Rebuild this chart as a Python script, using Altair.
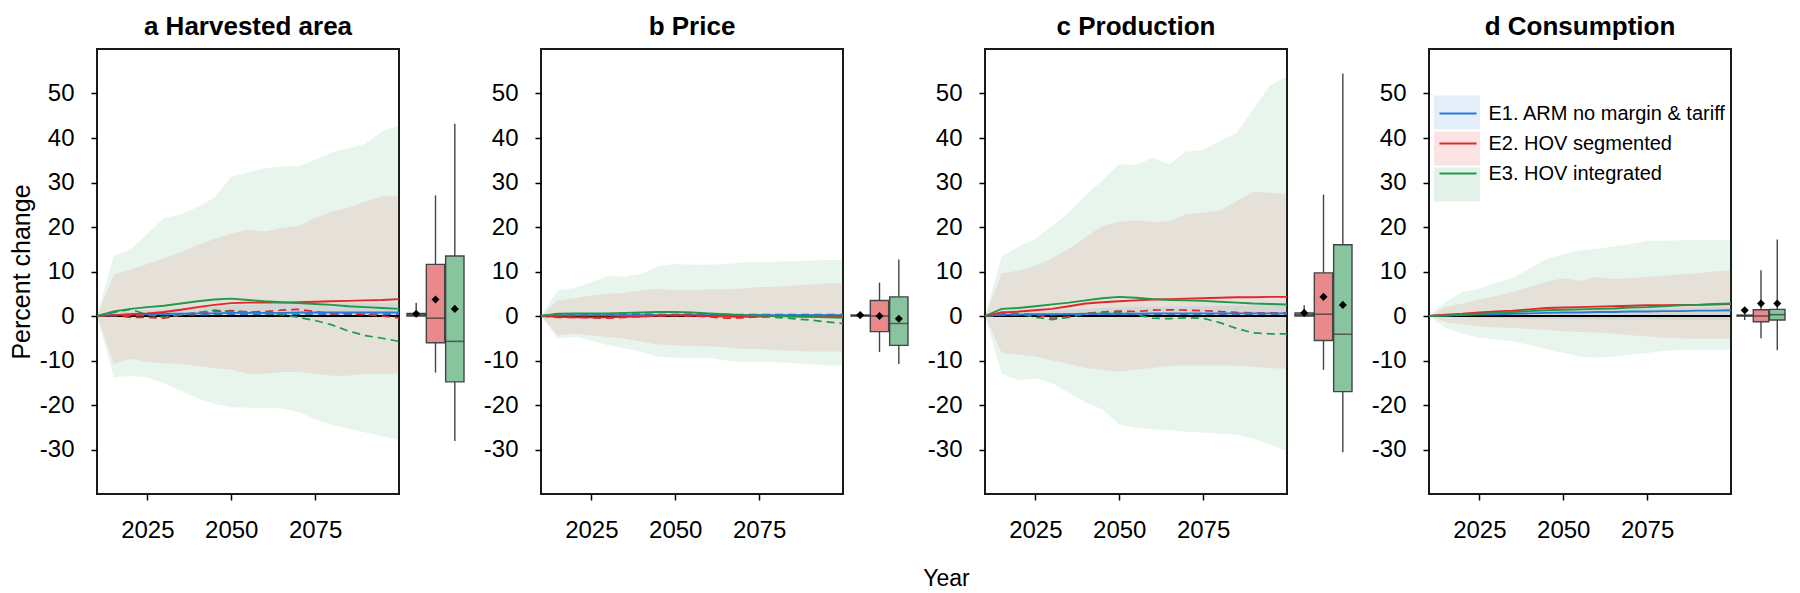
import altair as alt
import pandas as pd

YEARS = [2010, 2015, 2020, 2025, 2030, 2035, 2040, 2045, 2050, 2055,
         2060, 2065, 2070, 2075, 2080, 2085, 2090, 2095, 2100]
SCENARIOS = ["E1. ARM no margin & tariff", "E2. HOV segmented", "E3. HOV integrated"]
CODES = ["E1", "E2", "E3"]
LINE_COLORS = ["#2a7bd0", "#e3262b", "#1f9a4a"]
BOX_FILLS = ["#92a9be", "#e8898b", "#88c59e"]
PANEL_TITLES = ["a Harvested area", "b Price", "c Production", "d Consumption"]
X_TICKS = [2025, 2050, 2075]
Y_TICKS = [-30, -20, -10, 0, 10, 20, 30, 40, 50]

# ---------------- a Harvested area ----------------
A_E3_HI = [0, 13.5, 15.0, 18.5, 22.0, 22.8, 24.5, 26.6, 31.3, 32.2, 33.2, 33.6, 33.6, 35.1, 36.8, 37.7, 38.7, 41.5, 42.8]
A_E3_LO = [0, -13.8, -13.4, -13.8, -15.1, -16.8, -18.5, -19.8, -20.5, -20.6, -20.6, -20.8, -21.5, -23.2, -24.5, -25.3, -26.2, -27.0, -27.9]
A_E2_HI = [0, 9.2, 10.4, 11.7, 13.0, 14.3, 16.0, 17.3, 18.5, 19.4, 19.0, 19.8, 20.2, 22.0, 23.5, 24.3, 25.8, 26.9, 27.0]
A_E2_LO = [0, -10.8, -9.6, -10.4, -10.6, -10.8, -11.3, -11.7, -12.1, -13.0, -13.0, -12.6, -12.6, -13.0, -13.4, -13.4, -13.0, -13.0, -13.0]
A_E1_HI = [0, 0.8, 1.0, 1.3, 1.6, 1.8, 2.0, 2.2, 2.4, 2.5, 2.6, 2.7, 2.7, 2.8, 2.8, 2.9, 2.9, 3.0, 3.0]
A_E1_LO = [0, -0.1, -0.2, -0.2, -0.2, -0.2, -0.2, -0.2, -0.2, -0.2, -0.2, -0.2, -0.2, -0.2, -0.2, -0.2, -0.2, -0.2, -0.2]
A_E1_SOLID = [0, 0.2, 0.3, 0.4, 0.5, 0.5, 0.6, 0.6, 0.7, 0.7, 0.7, 0.7, 0.8, 0.8, 0.8, 0.8, 0.8, 0.8, 0.8]
A_E2_SOLID = [0, 0.2, 0.4, 0.6, 0.9, 1.4, 2.0, 2.5, 2.9, 3.0, 3.0, 3.0, 3.1, 3.2, 3.3, 3.4, 3.5, 3.6, 3.8]
A_E3_SOLID = [0, 1.0, 1.6, 2.0, 2.3, 2.8, 3.3, 3.7, 3.9, 3.6, 3.3, 3.1, 2.9, 2.7, 2.5, 2.2, 2.0, 1.8, 1.6]
A_E1_DASH = [0, 0.1, 0.2, 0.2, 0.3, 0.3, 0.3, 0.4, 0.4, 0.4, 0.4, 0.4, 0.4, 0.4, 0.4, 0.4, 0.4, 0.4, 0.4]
A_E2_DASH = [0, 0.2, -0.3, -0.3, -0.5, 0.2, 0.6, 1.0, 1.2, 0.9, 1.0, 1.3, 1.5, 1.0, 0.5, 0.6, 0.3, 0.0, -0.4]
A_E3_DASH = [0, 0.8, 1.5, 0.3, -0.3, 0.3, 0.8, 1.3, 1.0, 0.9, 0.6, 0.3, -0.3, -1.0, -2.0, -3.4, -4.4, -5.0, -5.7]
A_BOX_LOW = [0.0, -12.7, -28.1]
A_BOX_Q1 = [0.0, -6.0, -14.8]
A_BOX_MED = [0.3, -0.5, -5.7]
A_BOX_Q3 = [0.6, 11.6, 13.5]
A_BOX_HIGH = [3.0, 27.1, 43.2]
A_BOX_MEAN = [0.5, 3.7, 1.6]

# ---------------- b Price ----------------
B_E3_HI = [0, 5.8, 6.3, 7.6, 9.0, 8.8, 9.5, 11.2, 11.7, 11.5, 11.5, 11.7, 12.0, 12.2, 12.2, 12.3, 12.4, 12.6, 12.6]
B_E3_LO = [0, -5.1, -4.7, -5.5, -6.6, -7.3, -8.1, -9.2, -9.4, -9.4, -9.4, -10.0, -10.4, -10.4, -10.4, -10.6, -10.8, -11.1, -11.1]
B_E2_HI = [0, 3.5, 4.0, 4.6, 5.0, 5.2, 5.8, 6.1, 5.8, 5.8, 6.0, 6.0, 6.2, 6.5, 6.6, 6.8, 7.1, 7.3, 7.5]
B_E2_LO = [0, -4.4, -4.0, -4.4, -4.7, -5.1, -5.8, -6.4, -6.6, -6.8, -6.8, -7.0, -7.4, -7.4, -7.7, -7.8, -8.0, -8.0, -8.0]
B_E1_HI = [0, 0.2, 0.3, 0.3, 0.3, 0.4, 0.4, 0.4, 0.4, 0.4, 0.5, 0.5, 0.5, 0.5, 0.5, 0.5, 0.5, 0.5, 0.5]
B_E1_LO = [0, -0.1, -0.1, -0.1, -0.1, -0.1, -0.2, -0.2, -0.2, -0.2, -0.2, -0.2, -0.2, -0.2, -0.2, -0.2, -0.2, -0.2, -0.2]
B_E1_SOLID = [0, 0.2, 0.2, 0.2, 0.2, 0.2, 0.2, 0.2, 0.2, 0.2, 0.2, 0.2, 0.2, 0.2, 0.2, 0.2, 0.2, 0.2, 0.2]
B_E2_SOLID = [0, -0.2, -0.3, -0.3, -0.3, -0.2, -0.1, 0.1, 0.2, 0.1, 0.0, -0.1, -0.2, -0.1, 0.0, 0.0, -0.1, -0.1, -0.1]
B_E3_SOLID = [0, 0.5, 0.6, 0.6, 0.6, 0.7, 0.8, 0.9, 0.9, 0.8, 0.6, 0.4, 0.2, 0.1, 0.0, -0.1, -0.2, -0.3, -0.4]
B_E1_DASH = [0, 0.3, 0.3, 0.3, 0.3, 0.3, 0.3, 0.3, 0.3, 0.3, 0.3, 0.3, 0.3, 0.3, 0.3, 0.3, 0.3, 0.3, 0.3]
B_E2_DASH = [0, -0.3, -0.3, -0.4, -0.5, -0.3, -0.1, 0.0, 0.1, 0.0, -0.2, -0.5, -0.4, -0.2, -0.1, -0.1, -0.1, -0.2, -0.2]
B_E3_DASH = [0, 0.4, 0.5, 0.5, 0.5, 0.6, 0.7, 0.8, 0.8, 0.7, 0.5, 0.3, 0.1, -0.1, -0.3, -0.6, -0.9, -1.3, -1.7]
B_BOX_LOW = [-0.2, -8.1, -10.8]
B_BOX_Q1 = [0.0, -3.5, -6.6]
B_BOX_MED = [0.1, 0.0, -1.7]
B_BOX_Q3 = [0.2, 3.5, 4.3]
B_BOX_HIGH = [0.5, 7.5, 12.7]
B_BOX_MEAN = [0.2, 0.0, -0.6]

# ---------------- c Production ----------------
C_E3_HI = [0, 13.4, 15.6, 17.3, 20.3, 23.2, 27.1, 30.5, 34.1, 33.9, 35.6, 34.1, 36.9, 37.3, 39.4, 41.1, 46.6, 51.9, 53.9]
C_E3_LO = [0, -13.0, -14.5, -14.0, -15.1, -17.2, -19.4, -21.0, -24.4, -25.1, -25.5, -25.7, -26.0, -26.2, -26.4, -26.7, -27.6, -28.9, -30.4]
C_E2_HI = [0, 9.6, 10.2, 11.3, 13.0, 15.1, 17.7, 20.3, 21.1, 21.5, 21.1, 21.3, 23.0, 23.2, 23.7, 25.8, 27.9, 27.7, 27.5]
C_E2_LO = [0, -8.3, -8.7, -9.1, -10.0, -10.8, -11.7, -12.1, -12.5, -12.1, -11.7, -11.2, -11.1, -11.1, -11.1, -11.2, -11.4, -11.7, -11.9]
C_E1_HI = [0, 0.6, 0.8, 1.0, 1.2, 1.4, 1.6, 1.8, 1.9, 2.0, 2.1, 2.1, 2.2, 2.2, 2.3, 2.3, 2.4, 2.4, 2.4]
C_E1_LO = [0, -0.1, -0.1, -0.2, -0.2, -0.2, -0.2, -0.2, -0.2, -0.2, -0.2, -0.2, -0.2, -0.2, -0.2, -0.2, -0.2, -0.2, -0.2]
C_E1_SOLID = [0, 0.3, 0.3, 0.4, 0.4, 0.4, 0.5, 0.5, 0.5, 0.5, 0.6, 0.6, 0.6, 0.6, 0.6, 0.6, 0.6, 0.6, 0.6]
C_E2_SOLID = [0, 0.8, 1.0, 1.3, 1.6, 2.2, 2.8, 3.1, 3.3, 3.5, 3.7, 3.8, 3.9, 4.0, 4.1, 4.2, 4.2, 4.3, 4.3]
C_E3_SOLID = [0, 1.6, 1.8, 2.2, 2.6, 3.0, 3.5, 4.0, 4.3, 4.1, 3.8, 3.6, 3.5, 3.4, 3.2, 3.0, 2.8, 2.7, 2.6]
C_E1_DASH = [0, 0.2, 0.3, 0.3, 0.3, 0.4, 0.4, 0.4, 0.4, 0.4, 0.4, 0.4, 0.4, 0.4, 0.4, 0.4, 0.4, 0.4, 0.4]
C_E2_DASH = [0, 0.4, 0.5, 0.3, -0.5, -0.2, 0.6, 0.9, 1.1, 1.0, 1.3, 1.4, 1.3, 1.2, 1.0, 0.8, 0.7, 0.7, 0.7]
C_E3_DASH = [0, 0.8, 0.6, -0.3, -0.8, -0.3, 0.5, 0.7, 0.8, 0.3, -0.5, -0.6, -0.4, -0.5, -1.5, -2.8, -3.8, -4.0, -4.0]
C_BOX_LOW = [0.0, -12.1, -30.6]
C_BOX_Q1 = [0.0, -5.5, -17.0]
C_BOX_MED = [0.3, 0.4, -4.1]
C_BOX_Q3 = [0.7, 9.7, 16.0]
C_BOX_HIGH = [2.4, 27.3, 54.5]
C_BOX_MEAN = [0.7, 4.3, 2.5]

# ---------------- d Consumption ----------------
D_E3_HI = [0, 3.2, 5.4, 6.2, 7.5, 8.5, 10.7, 12.8, 13.9, 14.7, 15.1, 15.6, 16.2, 16.9, 16.9, 17.0, 17.1, 17.1, 17.1]
D_E3_LO = [0, -2.7, -4.0, -4.9, -5.3, -5.7, -6.5, -7.4, -8.3, -9.1, -9.4, -9.1, -8.7, -8.3, -7.8, -7.7, -7.7, -7.7, -7.7]
D_E2_HI = [0, 2.0, 2.8, 3.7, 4.5, 5.4, 6.6, 7.7, 8.5, 7.9, 8.8, 8.3, 8.5, 8.8, 9.0, 9.4, 9.6, 10.0, 10.2]
D_E2_LO = [0, -1.4, -1.9, -2.3, -2.6, -2.7, -2.9, -3.1, -3.4, -3.6, -3.7, -4.0, -4.3, -4.6, -4.9, -5.0, -5.1, -5.1, -5.1]
D_E1_HI = [0, 0.3, 0.5, 0.6, 0.8, 0.9, 1.0, 1.2, 1.3, 1.4, 1.5, 1.6, 1.7, 1.8, 1.8, 1.9, 1.9, 2.0, 2.0]
D_E1_LO = [0, -0.2, -0.3, -0.4, -0.5, -0.5, -0.6, -0.6, -0.7, -0.7, -0.7, -0.8, -0.8, -0.8, -0.8, -0.9, -0.9, -0.9, -0.9]
D_E1_SOLID = [0, 0.1, 0.2, 0.3, 0.4, 0.5, 0.6, 0.7, 0.8, 0.8, 0.9, 0.9, 1.0, 1.0, 1.1, 1.1, 1.2, 1.2, 1.3]
D_E2_SOLID = [0, 0.3, 0.5, 0.8, 1.0, 1.2, 1.5, 1.8, 1.9, 2.0, 2.1, 2.2, 2.3, 2.4, 2.4, 2.5, 2.5, 2.6, 2.7]
D_E3_SOLID = [0, 0.1, 0.3, 0.5, 0.7, 0.9, 1.1, 1.3, 1.4, 1.5, 1.6, 1.7, 1.9, 2.0, 2.2, 2.4, 2.5, 2.7, 2.8]
D_BOX_LOW = [-0.9, -5.0, -7.7]
D_BOX_Q1 = [0.0, -1.3, -0.9]
D_BOX_MED = [0.1, 0.0, 0.3]
D_BOX_Q3 = [0.2, 1.4, 1.5]
D_BOX_HIGH = [2.0, 10.3, 17.2]
D_BOX_MEAN = [1.3, 2.8, 2.8]

FONT = "Liberation Sans"
FRAME_W, FRAME_H = 302, 445
BOX_W, BOX_W_LAST = 142, 56
LABEL_EXPR = "datum.value < 0 ? '-' + abs(datum.value) : '' + datum.value"


def ribbon_frame(ribbons):
    rows = []
    for scen, (lo, hi) in zip(SCENARIOS, ribbons):
        for yr, l, h in zip(YEARS, lo, hi):
            rows.append({"year": yr, "band": scen, "lo": l, "hi": h})
    return pd.DataFrame(rows)


def line_frame(series):
    rows = []
    for scen, vals in zip(SCENARIOS, series):
        for yr, v in zip(YEARS, vals):
            rows.append({"year": yr, "scenario": scen, "v": v})
    return pd.DataFrame(rows)


def frame_chart(idx, ribbons, solids, dashes):
    first = idx == 0
    last = idx == 3
    yscale = alt.Scale(domain=[-40, 60], nice=False, zero=False)
    if idx == 2:
        xaxis = alt.Axis(values=X_TICKS, format="d", title="Year", tickSize=6,
                         labelPadding=18, titleX=-39, titleY=91,
                         titleAlign="center", titleBaseline="alphabetic",
                         titleFontSize=23, titleFontWeight="normal",
                         titleColor="black", titleFont=FONT)
    else:
        xaxis = alt.Axis(values=X_TICKS, format="d", title=None, tickSize=6,
                         labelPadding=18)
    if first:
        yaxis = alt.Axis(values=Y_TICKS, title="Percent change", tickSize=6,
                         labelPadding=17, titlePadding=5, titleFontSize=25,
                         titleFontWeight="normal", titleColor="black",
                         titleFont=FONT, labelExpr=LABEL_EXPR)
    else:
        yaxis = alt.Axis(values=Y_TICKS, title=None, tickSize=6, labelPadding=17,
                         labelExpr=LABEL_EXPR)
    x = alt.X("year:Q", scale=alt.Scale(domain=[2010, 2100], nice=False, zero=False),
              axis=xaxis)

    if last:
        fill_legend = alt.Legend(orient="none", legendX=9.5, legendY=45, title=None,
                                 symbolType="M-1.243,-0.919H1.243V0.919H-1.243Z",
                                 symbolSize=1369, symbolStrokeWidth=0,
                                 symbolOpacity=0.13, labelExpr="''", rowPadding=0,
                                 padding=0, zindex=0)
        stroke_legend = alt.Legend(orient="none", legendX=9.5, legendY=45, title=None,
                                   symbolType="stroke", symbolSize=1369,
                                   symbolStrokeWidth=2, labelFontSize=20,
                                   labelFont=FONT, labelColor="black",
                                   labelOffset=11, labelLimit=400, rowPadding=0,
                                   padding=0, zindex=1)
    else:
        fill_legend = None
        stroke_legend = None

    areas = alt.Chart(ribbon_frame(ribbons)).mark_area(opacity=0.1).encode(
        x=x,
        y=alt.Y("lo:Q", scale=yscale, axis=yaxis),
        y2="hi:Q",
        fill=alt.Fill("band:N", scale=alt.Scale(domain=SCENARIOS, range=LINE_COLORS),
                      legend=fill_legend),
    )
    zero = alt.Chart(pd.DataFrame({"z": [0]})).mark_rule(
        color="black", strokeWidth=2).encode(y=alt.Y("z:Q", scale=yscale))
    layers = [areas, zero]
    if dashes is not None:
        dash_df = line_frame(dashes)
        for scen, col in zip(SCENARIOS, LINE_COLORS):
            layers.append(
                alt.Chart(dash_df[dash_df.scenario == scen]).mark_line(
                    color=col, strokeWidth=1.7, strokeDash=[8, 5]).encode(
                    x=x, y=alt.Y("v:Q", scale=yscale)))
    solid = alt.Chart(line_frame(solids)).mark_line(strokeWidth=1.9).encode(
        x=x,
        y=alt.Y("v:Q", scale=yscale),
        stroke=alt.Stroke("scenario:N",
                          scale=alt.Scale(domain=SCENARIOS, range=LINE_COLORS),
                          legend=stroke_legend),
    )
    layers.append(solid)
    title = alt.TitleParams(PANEL_TITLES[idx], fontSize=26, font=FONT,
                            fontWeight="bold", anchor="middle", offset=9,
                            color="black")
    return alt.layer(*layers).resolve_legend(fill="independent", stroke="independent").properties(
        width=FRAME_W, height=FRAME_H, title=title,
        view=alt.ViewBackground(stroke="#1a1a1a", strokeWidth=2))


def box_chart(stats, width, rng):
    low, q1, med, q3, high, mean = stats
    df = pd.DataFrame({"code": CODES, "low": low, "q1": q1, "med": med,
                       "q3": q3, "high": high, "mean": mean})
    pad = 0.05
    step = (rng[1] - rng[0]) / (3 - pad)
    bw = step * (1 - pad)
    x = alt.X("code:N", axis=None,
              scale=alt.Scale(type="band", domain=CODES, range=rng,
                              paddingInner=pad, paddingOuter=0))
    yscale = alt.Scale(domain=[-40, 60], nice=False, zero=False)
    base = alt.Chart(df)
    whisk = base.mark_rule(color="#444444", strokeWidth=1.4).encode(
        x=x, y=alt.Y("low:Q", scale=yscale, axis=None), y2="high:Q")
    box = base.mark_bar(stroke="#444444", strokeWidth=1.4).encode(
        x=x, y=alt.Y("q1:Q", scale=yscale, axis=None), y2="q3:Q",
        fill=alt.Fill("code:N", scale=alt.Scale(domain=CODES, range=BOX_FILLS),
                      legend=None))
    medl = base.mark_tick(color="#333333", thickness=1.6, size=bw).encode(
        x=x, y=alt.Y("med:Q", scale=yscale, axis=None))
    meanp = base.mark_point(shape="diamond", filled=True, color="black",
                            size=65, opacity=1).encode(
        x=x, y=alt.Y("mean:Q", scale=yscale, axis=None))
    return alt.layer(whisk, box, medl, meanp).properties(
        width=width, height=FRAME_H,
        view=alt.ViewBackground(strokeOpacity=0))


panels = [
    frame_chart(0, [(A_E1_LO, A_E1_HI), (A_E2_LO, A_E2_HI), (A_E3_LO, A_E3_HI)],
                [A_E1_SOLID, A_E2_SOLID, A_E3_SOLID], [A_E1_DASH, A_E2_DASH, A_E3_DASH]),
    box_chart([A_BOX_LOW, A_BOX_Q1, A_BOX_MED, A_BOX_Q3, A_BOX_HIGH, A_BOX_MEAN], BOX_W, [8, 65]),
    frame_chart(1, [(B_E1_LO, B_E1_HI), (B_E2_LO, B_E2_HI), (B_E3_LO, B_E3_HI)],
                [B_E1_SOLID, B_E2_SOLID, B_E3_SOLID], [B_E1_DASH, B_E2_DASH, B_E3_DASH]),
    box_chart([B_BOX_LOW, B_BOX_Q1, B_BOX_MED, B_BOX_Q3, B_BOX_HIGH, B_BOX_MEAN], BOX_W, [8, 65]),
    frame_chart(2, [(C_E1_LO, C_E1_HI), (C_E2_LO, C_E2_HI), (C_E3_LO, C_E3_HI)],
                [C_E1_SOLID, C_E2_SOLID, C_E3_SOLID], [C_E1_DASH, C_E2_DASH, C_E3_DASH]),
    box_chart([C_BOX_LOW, C_BOX_Q1, C_BOX_MED, C_BOX_Q3, C_BOX_HIGH, C_BOX_MEAN], BOX_W, [8, 65]),
    frame_chart(3, [(D_E1_LO, D_E1_HI), (D_E2_LO, D_E2_HI), (D_E3_LO, D_E3_HI)],
                [D_E1_SOLID, D_E2_SOLID, D_E3_SOLID], None),
    box_chart([D_BOX_LOW, D_BOX_Q1, D_BOX_MED, D_BOX_Q3, D_BOX_HIGH, D_BOX_MEAN], BOX_W_LAST, [6, 54]),
]

chart = alt.hconcat(*panels, spacing=0, bounds="flush").resolve_scale(
    x="independent", y="independent", fill="independent", stroke="independent"
).resolve_legend(fill="independent", stroke="independent").properties(
    padding={"top": 5, "left": 0, "right": 0, "bottom": 0}
).configure(font=FONT, background="white").configure_axis(
    labelFont=FONT, labelFontSize=24, labelColor="black", tickColor="black",
    tickWidth=1.5, domain=False, grid=False
)

chart.save("out.html", embed_options={"renderer": "svg", "actions": False})
